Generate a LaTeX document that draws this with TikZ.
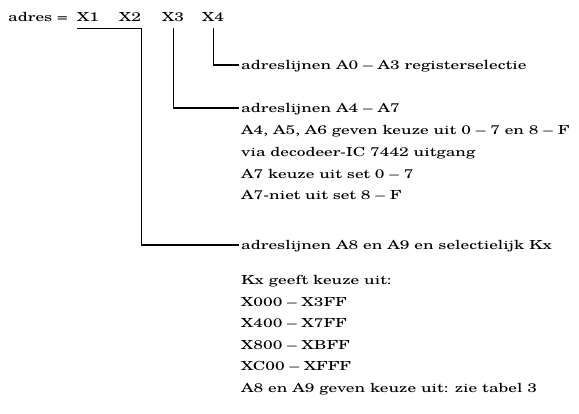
\documentclass[tikz,border=0pt]{standalone}
\usepackage{fontspec}
\setmainfont[FakeStretch=1.39]{TeX Gyre Schola}
\usetikzlibrary{positioning}

\tikzset{
  txt/.style={inner sep=0pt, anchor=base west, font=\fontsize{12.5}{15}\selectfont},
  lead/.style={txt, inner xsep=2pt, anchor=west, text height=10pt, text depth=0pt},
  xpart/.style={txt, inner ysep=6pt},
  bracket/.style={line width=1.2pt}
}

\begin{document}
\begin{tikzpicture}[x=1pt,y=-1pt]
\useasboundingbox (0,0) rectangle (579,414);
% adres regel
\node[txt] (adres) at (8,22) {adres =};
\node[xpart] (x1) at (77,22) {X1};
\node[xpart] (x2) at (119,22) {X2};
\node[xpart] (x3) at (162,22) {X3};
\node[xpart] (x4) at (202,22) {X4};

% toelichting
\node[lead] (a03) at (239,65) {adreslijnen A0 -- A3 registerselectie};
\node[lead] (a47) at (239,108) {adreslijnen A4 -- A7};
\foreach \t [count=\i] in {{A4, A5, A6 geven keuze uit 0 -- 7 en 8 -- F},
    {via decodeer-IC 7442 uitgang}, {A7 keuze uit set 0 -- 7}, {A7-niet uit set 8 -- F}}
  \node[txt] (l\i) at (241,{113+21.7*\i}) {\t};
\node[lead] (a89) at (239,245) {adreslijnen A8 en A9 en selectielijk Kx};
\foreach \t [count=\i] in {{Kx geeft keuze uit:}, {X000 -- X3FF}, {X400 -- X7FF},
    {X800 -- XBFF}, {XC00 -- XFFF}, {A8 en A9 geven keuze uit: zie tabel 3}}
  \node[txt] (k\i) at (241,{285+21.4*(\i-1)}) {\t};

% verbindingen
\draw[bracket] (x4.south) |- (a03.west);
\draw[bracket] (x3.south) |- (a47.west);
\draw[bracket] (x1.south west) -- (x2.south east) |- (a89.west);
\end{tikzpicture}
\end{document}
